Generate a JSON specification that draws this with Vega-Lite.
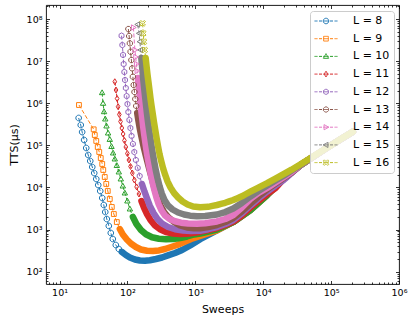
{
"$schema":"https://vega.github.io/schema/vega-lite/v6.json",
"width":353,"height":279,
"autosize":{"type":"none"},
"padding":{"left":46,"top":5,"right":16,"bottom":39},
"config":{"view":{"stroke":"#000","strokeWidth":0.9},"font":"DejaVu Sans",
"axis":{"grid":false,"domain":false,"tickColor":"#000","tickWidth":0.8,"labelColor":"#000","titleColor":"#000","labelFont":"DejaVu Sans","titleFont":"DejaVu Sans","titleFontWeight":"normal","labelFontSize":9.5,"titleFontSize":11,"labelFlush":false,"labelOverlap":false}},
"data":{"values":[
{"L":8,"s":19.1,"T":446000},{"L":8,"s":20.5,"T":304000},{"L":8,"s":21.5,"T":207000},{"L":8,"s":23,"T":134000},{"L":8,"s":24.7,"T":86500},{"L":8,"s":26.4,"T":59000},{"L":8,"s":28.3,"T":42500},{"L":8,"s":30.3,"T":30600},{"L":8,"s":32.4,"T":22000},{"L":8,"s":34.7,"T":15900},{"L":8,"s":37.1,"T":11400},{"L":8,"s":39.7,"T":8240},{"L":8,"s":42.5,"T":5620},{"L":8,"s":44.8,"T":3830},{"L":8,"s":47.1,"T":2610},{"L":8,"s":49.6,"T":1780},{"L":8,"s":53.1,"T":1220},{"L":8,"s":56.8,"T":830},{"L":8,"s":60.8,"T":597},{"L":8,"s":67.3,"T":430},{"L":8,"s":74.6,"T":346},{"L":8,"s":82.6,"T":294},{"L":8,"s":94.6,"T":249},{"L":8,"s":108.6,"T":217},{"L":8,"s":128.6,"T":195},{"L":8,"s":152.5,"T":184.5},{"L":8,"s":180.7,"T":182},{"L":8,"s":214,"T":187},{"L":8,"s":263,"T":200},{"L":8,"s":323,"T":217},{"L":8,"s":396,"T":243},{"L":8,"s":503,"T":278},{"L":8,"s":638,"T":327},{"L":8,"s":838,"T":419},{"L":8,"s":1178,"T":590},{"L":8,"s":2080,"T":951},{"L":8,"s":3620,"T":1514},{"L":8,"s":6470,"T":2917},{"L":8,"s":11430,"T":6620},{"L":8,"s":19900,"T":15900},{"L":8,"s":35500,"T":34100},{"L":8,"s":83200,"T":83700},{"L":8,"s":209000,"T":211000},
{"L":9,"s":19.3,"T":908000},{"L":9,"s":31.8,"T":240000},{"L":9,"s":33,"T":176000},{"L":9,"s":34.7,"T":127000},{"L":9,"s":36.5,"T":91400},{"L":9,"s":38.4,"T":69500},{"L":9,"s":40.4,"T":50000},{"L":9,"s":42.5,"T":36100},{"L":9,"s":44,"T":26000},{"L":9,"s":46.3,"T":17700},{"L":9,"s":48.7,"T":12100},{"L":9,"s":51.3,"T":8240},{"L":9,"s":54.9,"T":5320},{"L":9,"s":58.8,"T":3440},{"L":9,"s":63,"T":2340},{"L":9,"s":69.7,"T":1510},{"L":9,"s":77.2,"T":1030},{"L":9,"s":85.5,"T":764},{"L":9,"s":97.9,"T":581},{"L":9,"s":112.2,"T":467},{"L":9,"s":133,"T":386},{"L":9,"s":158,"T":337},{"L":9,"s":194,"T":315},{"L":9,"s":238,"T":310},{"L":9,"s":291,"T":319},{"L":9,"s":357,"T":346},{"L":9,"s":439,"T":386},{"L":9,"s":538,"T":430},{"L":9,"s":682,"T":507},{"L":9,"s":867,"T":597},{"L":9,"s":1178,"T":705},{"L":9,"s":2080,"T":951},{"L":9,"s":3620,"T":1514},{"L":9,"s":6470,"T":2917},{"L":9,"s":11430,"T":6620},{"L":9,"s":19900,"T":15900},{"L":9,"s":35500,"T":34100},{"L":9,"s":83200,"T":83700},{"L":9,"s":209000,"T":211000},
{"L":10,"s":42.3,"T":1780000},{"L":10,"s":43.7,"T":995000},{"L":10,"s":45.2,"T":629000},{"L":10,"s":47.1,"T":422000},{"L":10,"s":49.1,"T":288000},{"L":10,"s":51.8,"T":196000},{"L":10,"s":54.9,"T":138000},{"L":10,"s":58.2,"T":93800},{"L":10,"s":61.4,"T":65800},{"L":10,"s":65.1,"T":47400},{"L":10,"s":69.7,"T":33200},{"L":10,"s":74.6,"T":23300},{"L":10,"s":79.8,"T":15900},{"L":10,"s":85.5,"T":10800},{"L":10,"s":91.5,"T":7380},{"L":10,"s":99.7,"T":4770},{"L":10,"s":108.6,"T":3080},{"L":10,"s":120.3,"T":1990},{"L":10,"s":135.5,"T":1360},{"L":10,"s":158,"T":977},{"L":10,"s":187,"T":773},{"L":10,"s":230,"T":656},{"L":10,"s":291,"T":607},{"L":10,"s":370,"T":591},{"L":10,"s":470,"T":597},{"L":10,"s":596,"T":631},{"L":10,"s":757,"T":685},{"L":10,"s":960,"T":764},{"L":10,"s":1178,"T":807},{"L":10,"s":2080,"T":1005},{"L":10,"s":3620,"T":1514},{"L":10,"s":6470,"T":2917},{"L":10,"s":11430,"T":6620},{"L":10,"s":19900,"T":15900},{"L":10,"s":35500,"T":34100},{"L":10,"s":83200,"T":83700},{"L":10,"s":209000,"T":211000},
{"L":11,"s":65.1,"T":3240000},{"L":11,"s":67.8,"T":2060000},{"L":11,"s":70.4,"T":1290000},{"L":11,"s":72.8,"T":826000},{"L":11,"s":75.9,"T":540000},{"L":11,"s":79,"T":368000},{"L":11,"s":82.6,"T":258000},{"L":11,"s":86.3,"T":186000},{"L":11,"s":90.3,"T":130000},{"L":11,"s":94.6,"T":91400},{"L":11,"s":99.7,"T":64000},{"L":11,"s":105,"T":44900},{"L":11,"s":111,"T":31500},{"L":11,"s":118,"T":22000},{"L":11,"s":126.5,"T":15000},{"L":11,"s":136.4,"T":10300},{"L":11,"s":147.5,"T":7000},{"L":11,"s":160.7,"T":4770},{"L":11,"s":175,"T":3340},{"L":11,"s":194,"T":2340},{"L":11,"s":218,"T":1690},{"L":11,"s":254,"T":1250},{"L":11,"s":301,"T":1016},{"L":11,"s":370,"T":877},{"L":11,"s":470,"T":807},{"L":11,"s":596,"T":785},{"L":11,"s":757,"T":794},{"L":11,"s":960,"T":839},{"L":11,"s":1178,"T":891},{"L":11,"s":1545,"T":977},{"L":11,"s":2080,"T":1091},{"L":11,"s":2760,"T":1285},{"L":11,"s":3620,"T":1556},{"L":11,"s":4840,"T":2160},{"L":11,"s":6470,"T":3340},{"L":11,"s":8490,"T":4770},{"L":11,"s":11430,"T":7000},{"L":11,"s":15140,"T":9700},{"L":11,"s":19900,"T":15900},{"L":11,"s":35500,"T":34100},{"L":11,"s":83200,"T":83700},{"L":11,"s":209000,"T":211000},
{"L":12,"s":81.8,"T":40100000},{"L":12,"s":84.1,"T":24100000},{"L":12,"s":86.1,"T":14000000},{"L":12,"s":87.9,"T":8530000},{"L":12,"s":90,"T":5510000},{"L":12,"s":92.1,"T":3560000},{"L":12,"s":94.6,"T":2300000},{"L":12,"s":97.3,"T":1480000},{"L":12,"s":100,"T":958000},{"L":12,"s":103,"T":619000},{"L":12,"s":106.7,"T":400000},{"L":12,"s":110.4,"T":258000},{"L":12,"s":115,"T":167000},{"L":12,"s":120.3,"T":108000},{"L":12,"s":126.1,"T":69500},{"L":12,"s":133,"T":44900},{"L":12,"s":141.6,"T":29000},{"L":12,"s":151.4,"T":18700},{"L":12,"s":163.3,"T":12100},{"L":12,"s":177.8,"T":8020},{"L":12,"s":194,"T":5470},{"L":12,"s":214,"T":3630},{"L":12,"s":242,"T":2475},{"L":12,"s":277,"T":1782},{"L":12,"s":323,"T":1393},{"L":12,"s":396,"T":1151},{"L":12,"s":503,"T":1016},{"L":12,"s":660,"T":951},{"L":12,"s":867,"T":925},{"L":12,"s":1178,"T":940},{"L":12,"s":1545,"T":1021},{"L":12,"s":2080,"T":1151},{"L":12,"s":2760,"T":1357},{"L":12,"s":3620,"T":1690},{"L":12,"s":4840,"T":2410},{"L":12,"s":6470,"T":3730},{"L":12,"s":8490,"T":5470},{"L":12,"s":11430,"T":8020},{"L":12,"s":15140,"T":11130},{"L":12,"s":19900,"T":15030},{"L":12,"s":35500,"T":34100},{"L":12,"s":83200,"T":83700},{"L":12,"s":209000,"T":211000},
{"L":13,"s":103.1,"T":57800000},{"L":13,"s":105.9,"T":39400000},{"L":13,"s":108.5,"T":26500000},{"L":13,"s":111.2,"T":16700000},{"L":13,"s":114.2,"T":10600000},{"L":13,"s":117.4,"T":6740000},{"L":13,"s":120.2,"T":4260000},{"L":13,"s":123.5,"T":2710000},{"L":13,"s":126.9,"T":1850000},{"L":13,"s":130.5,"T":1260000},{"L":13,"s":134.5,"T":859000},{"L":13,"s":139.2,"T":586000},{"L":13,"s":144.5,"T":400000},{"L":13,"s":150.5,"T":272000},{"L":13,"s":157.8,"T":186000},{"L":13,"s":166.1,"T":127000},{"L":13,"s":174.8,"T":86500},{"L":13,"s":185.3,"T":59000},{"L":13,"s":197,"T":40200},{"L":13,"s":209.4,"T":27400},{"L":13,"s":223.4,"T":18700},{"L":13,"s":239.1,"T":12400},{"L":13,"s":256.9,"T":8240},{"L":13,"s":278.8,"T":5470},{"L":13,"s":306.7,"T":3730},{"L":13,"s":345.6,"T":2610},{"L":13,"s":402.7,"T":1936},{"L":13,"s":485.8,"T":1514},{"L":13,"s":595.8,"T":1250},{"L":13,"s":756,"T":1120},{"L":13,"s":960,"T":1072},{"L":13,"s":1178,"T":1072},{"L":13,"s":1545,"T":1151},{"L":13,"s":2080,"T":1285},{"L":13,"s":2760,"T":1514},{"L":13,"s":3620,"T":1884},{"L":13,"s":4840,"T":2690},{"L":13,"s":6470,"T":4160},{"L":13,"s":8490,"T":6100},{"L":13,"s":11430,"T":8950},{"L":13,"s":15140,"T":12400},{"L":13,"s":19900,"T":16800},{"L":13,"s":26100,"T":22700},{"L":13,"s":35500,"T":34100},{"L":13,"s":83200,"T":83700},{"L":13,"s":209000,"T":211000},
{"L":14,"s":122.3,"T":62800000},{"L":14,"s":128.7,"T":18400000},{"L":14,"s":132.3,"T":12500000},{"L":14,"s":135.4,"T":8530000},{"L":14,"s":138.7,"T":5820000},{"L":14,"s":142.5,"T":3970000},{"L":14,"s":145.9,"T":2710000},{"L":14,"s":149.5,"T":1850000},{"L":14,"s":153.1,"T":1260000},{"L":14,"s":156.8,"T":859000},{"L":14,"s":161.1,"T":586000},{"L":14,"s":166.1,"T":400000},{"L":14,"s":170.7,"T":272000},{"L":14,"s":176.1,"T":186000},{"L":14,"s":182.2,"T":127000},{"L":14,"s":188.4,"T":86500},{"L":14,"s":195.5,"T":59000},{"L":14,"s":203.8,"T":40200},{"L":14,"s":213,"T":27400},{"L":14,"s":223.4,"T":18700},{"L":14,"s":235.1,"T":12800},{"L":14,"s":249.1,"T":8710},{"L":14,"s":265.9,"T":5940},{"L":14,"s":287.5,"T":4050},{"L":14,"s":317.3,"T":2840},{"L":14,"s":357,"T":2160},{"L":14,"s":416.7,"T":1782},{"L":14,"s":503,"T":1573},{"L":14,"s":616.6,"T":1456},{"L":14,"s":782.6,"T":1393},{"L":14,"s":1052,"T":1372},{"L":14,"s":1396,"T":1409},{"L":14,"s":2080,"T":1556},{"L":14,"s":2760,"T":1782},{"L":14,"s":3620,"T":2220},{"L":14,"s":4840,"T":3340},{"L":14,"s":6470,"T":5320},{"L":14,"s":8490,"T":7380},{"L":14,"s":11430,"T":9700},{"L":14,"s":15140,"T":13100},{"L":14,"s":19900,"T":17400},{"L":14,"s":26100,"T":23300},{"L":14,"s":35500,"T":34100},{"L":14,"s":83200,"T":83700},{"L":14,"s":209000,"T":211000},
{"L":15,"s":141.1,"T":74000000},{"L":15,"s":148.9,"T":45700000},{"L":15,"s":152.5,"T":28900000},{"L":15,"s":156.2,"T":18400000},{"L":15,"s":160,"T":11900000},{"L":15,"s":163.9,"T":7650000},{"L":15,"s":167.9,"T":4940000},{"L":15,"s":172.5,"T":3190000},{"L":15,"s":177.3,"T":2060000},{"L":15,"s":182.7,"T":1330000},{"L":15,"s":188.4,"T":859000},{"L":15,"s":194.3,"T":555000},{"L":15,"s":201,"T":358000},{"L":15,"s":208.7,"T":231000},{"L":15,"s":217.5,"T":149000},{"L":15,"s":226.5,"T":96400},{"L":15,"s":236.7,"T":62300},{"L":15,"s":248.3,"T":40200},{"L":15,"s":261.3,"T":26000},{"L":15,"s":277,"T":16800},{"L":15,"s":296.5,"T":10800},{"L":15,"s":320.6,"T":7190},{"L":15,"s":351.5,"T":5040},{"L":15,"s":396,"T":3730},{"L":15,"s":461.6,"T":3000},{"L":15,"s":556.7,"T":2540},{"L":15,"s":682,"T":2280},{"L":15,"s":838,"T":2140},{"L":15,"s":1052,"T":2070},{"L":15,"s":1396,"T":2100},{"L":15,"s":2080,"T":2280},{"L":15,"s":2760,"T":2610},{"L":15,"s":3620,"T":3160},{"L":15,"s":4840,"T":4280},{"L":15,"s":6470,"T":6100},{"L":15,"s":8490,"T":8240},{"L":15,"s":11430,"T":11100},{"L":15,"s":15140,"T":14600},{"L":15,"s":19900,"T":18900},{"L":15,"s":26100,"T":25300},{"L":15,"s":35500,"T":34100},{"L":15,"s":83200,"T":83700},{"L":15,"s":209000,"T":211000},
{"L":16,"s":167.2,"T":79000000},{"L":16,"s":170.7,"T":45700000},{"L":16,"s":174.8,"T":28900000},{"L":16,"s":179.7,"T":18400000},{"L":16,"s":185.3,"T":11900000},{"L":16,"s":191,"T":7650000},{"L":16,"s":197,"T":4940000},{"L":16,"s":203.8,"T":3190000},{"L":16,"s":210.9,"T":2060000},{"L":16,"s":218,"T":1330000},{"L":16,"s":226.5,"T":859000},{"L":16,"s":236,"T":555000},{"L":16,"s":245.7,"T":358000},{"L":16,"s":256.9,"T":231000},{"L":16,"s":268.5,"T":149000},{"L":16,"s":281.7,"T":96400},{"L":16,"s":296.5,"T":62300},{"L":16,"s":314.1,"T":42500},{"L":16,"s":334,"T":29000},{"L":16,"s":359.9,"T":19800},{"L":16,"s":390.6,"T":13800},{"L":16,"s":431,"T":9980},{"L":16,"s":485.8,"T":7380},{"L":16,"s":556.7,"T":5780},{"L":16,"s":648.9,"T":4640},{"L":16,"s":769.1,"T":3940},{"L":16,"s":927.9,"T":3530},{"L":16,"s":1178,"T":3380},{"L":16,"s":1350,"T":3430},{"L":16,"s":1545,"T":3470},{"L":16,"s":1791,"T":3650},{"L":16,"s":2080,"T":3830},{"L":16,"s":2391,"T":4070},{"L":16,"s":2760,"T":4320},{"L":16,"s":3162,"T":4670},{"L":16,"s":3620,"T":5040},{"L":16,"s":4182,"T":5570},{"L":16,"s":4840,"T":6170},{"L":16,"s":5585,"T":7000},{"L":16,"s":6470,"T":7930},{"L":16,"s":7412,"T":8870},{"L":16,"s":8490,"T":9930},{"L":16,"s":9831,"T":11190},{"L":16,"s":11430,"T":12620},{"L":16,"s":13140,"T":14320},{"L":16,"s":15140,"T":16230},{"L":16,"s":17360,"T":18320},{"L":16,"s":19900,"T":20650},{"L":16,"s":22800,"T":23350},{"L":16,"s":26100,"T":26400},{"L":16,"s":30450,"T":30600},{"L":16,"s":35500,"T":35500},{"L":16,"s":40700,"T":40640},{"L":16,"s":46700,"T":46600},{"L":16,"s":53440,"T":53580},{"L":16,"s":61200,"T":61600},{"L":16,"s":71400,"T":71780},{"L":16,"s":83200,"T":83700},{"L":16,"s":97000,"T":97760},{"L":16,"s":113000,"T":114000},{"L":16,"s":131800,"T":133600},{"L":16,"s":153000,"T":156000},{"L":16,"s":179000,"T":181400},{"L":16,"s":209000,"T":211000}
]},
"encoding":{
"color":{"field":"L","type":"nominal","scale":{"domain":[8,9,10,11,12,13,14,15,16],"range":["#1f77b4","#ff7f0e","#2ca02c","#d62728","#9467bd","#8c564b","#e377c2","#7f7f7f","#bcbd22"]},
"legend":{"title":null,"orient":"top-right","offset":5.5,"padding":4.5,"strokeColor":"#cccccc","fillColor":"rgba(255,255,255,0.8)","cornerRadius":3,"rowPadding":5.7,"symbolOffset":6,"labelOffset":21.5,"labelFontSize":11,"labelFont":"DejaVu Sans","labelColor":"#000","labelExpr":"'L = ' + datum.label","symbolSize":100,
"encode":{"symbols":{"update":{"shape":{"signal":"['M-2.3,0H-1.7M-1.4,0H-0.8M-0.55,0H0.55M0.8,0H1.4M1.7,0H2.3M0.55,0A0.55,0.55,0,1,1,-0.55,0A0.55,0.55,0,1,1,0.55,0Z','M-2.3,0H-1.7M-1.4,0H-0.8M-0.55,0H0.55M0.8,0H1.4M1.7,0H2.3M-0.47,-0.47H0.47V0.47H-0.47Z','M-2.3,0H-1.7M-1.4,0H-0.8M-0.55,0H0.55M0.8,0H1.4M1.7,0H2.3M0,-0.55L0.52,0.385L-0.52,0.385Z','M-2.3,0H-1.7M-1.4,0H-0.8M-0.55,0H0.55M0.8,0H1.4M1.7,0H2.3M0,-0.58L0.36,0L0,0.58L-0.36,0Z','M-2.3,0H-1.7M-1.4,0H-0.8M-0.55,0H0.55M0.8,0H1.4M1.7,0H2.3M0,-0.55L0.476,-0.275L0.476,0.275L0,0.55L-0.476,0.275L-0.476,-0.275Z','M-2.3,0H-1.7M-1.4,0H-0.8M-0.55,0H0.55M0.8,0H1.4M1.7,0H2.3M0.211,-0.508L0.508,-0.211L0.508,0.211L0.211,0.508L-0.211,0.508L-0.508,0.211L-0.508,-0.211L-0.211,-0.508Z','M-2.3,0H-1.7M-1.4,0H-0.8M-0.55,0H0.55M0.8,0H1.4M1.7,0H2.3M0.55,0L-0.385,0.52L-0.385,-0.52Z','M-2.3,0H-1.7M-1.4,0H-0.8M-0.55,0H0.55M0.8,0H1.4M1.7,0H2.3M-0.55,0L0.385,-0.52L0.385,0.52Z','M-2.3,0H-1.7M-1.4,0H-0.8M-0.55,0H0.55M0.8,0H1.4M1.7,0H2.3M-0.55,-0.33L-0.33,-0.55L0,-0.22L0.33,-0.55L0.55,-0.33L0.22,0L0.55,0.33L0.33,0.55L0,0.22L-0.33,0.55L-0.55,0.33L-0.22,0Z'][datum.value - 8]"},
"size":{"value":100},"fill":{"value":"transparent"},"stroke":{"scale":"color","field":"value"},"strokeWidth":{"value":1},"strokeDash":{"value":[1,0]},"opacity":{"value":1}}}}}}
},
"layer":[
{"mark":{"type":"line","strokeDash":[4,2],"strokeWidth":1},
"encoding":{
"x":{"field":"s","type":"quantitative","scale":{"type":"log","domain":[6.31,1000000],"nice":false},"axis":{"orient":"bottom","values":[10,100,1000,10000,100000,1000000],"labelExpr":"'10' + ['⁰','¹','²','³','⁴','⁵','⁶','⁷','⁸'][round(log(datum.value)/LN10)]","tickSize":-3.5,"labelPadding":7,"title":"Sweeps","titlePadding":6}},
"y":{"field":"T","type":"quantitative","scale":{"type":"log","domain":[51,215000000],"nice":false},"axis":{"orient":"left","values":[100,1000,10000,100000,1000000,10000000,100000000],"labelExpr":"'10' + ['⁰','¹','²','³','⁴','⁵','⁶','⁷','⁸'][round(log(datum.value)/LN10)]","tickSize":-3.5,"labelPadding":7.5,"title":"TTS(μs)","titlePadding":7}}}},
{"transform":[{"filter":"datum.s >= [75,75,120,150,160,135,140,160,185][datum.L - 8]"}],
"mark":{"type":"line","strokeWidth":6.5,"strokeCap":"round","strokeJoin":"round"},
"encoding":{
"x":{"field":"s","type":"quantitative","scale":{"type":"log","domain":[6.31,1000000],"nice":false},"axis":null},
"y":{"field":"T","type":"quantitative","scale":{"type":"log","domain":[51,215000000],"nice":false},"axis":null}}},
{"transform":[{"filter":"datum.s < [75,75,120,150,160,135,140,160,185][datum.L - 8]"}],
"mark":{"type":"point","filled":false,"size":32,"strokeWidth":1,"opacity":1},
"encoding":{
"x":{"field":"s","type":"quantitative","scale":{"type":"log","domain":[6.31,1000000],"nice":false},"axis":{"orient":"top","values":[10,100,1000,10000,100000,1000000],"labels":false,"tickSize":-3.5,"title":null}},
"y":{"field":"T","type":"quantitative","scale":{"type":"log","domain":[51,215000000],"nice":false},"axis":{"orient":"right","values":[100,1000,10000,100000,1000000,10000000,100000000],"labels":false,"tickSize":-3.5,"title":null}},
"shape":{"field":"L","type":"nominal","scale":{"domain":[16,15,14,13,12,11,10,9,8],"range":["M-1,-0.6L-0.6,-1L0,-0.4L0.6,-1L1,-0.6L0.4,0L1,0.6L0.6,1L0,0.4L-0.6,1L-1,0.6L-0.4,0Z","M-1,0L0.7,-0.95L0.7,0.95Z","M1,0L-0.7,0.95L-0.7,-0.95Z","M0.383,-0.924L0.924,-0.383L0.924,0.383L0.383,0.924L-0.383,0.924L-0.924,0.383L-0.924,-0.383L-0.383,-0.924Z","M0,-1L0.866,-0.5L0.866,0.5L0,1L-0.866,0.5L-0.866,-0.5Z","M0,-1.05L0.65,0L0,1.05L-0.65,0Z","M0,-1L0.95,0.7L-0.95,0.7Z","M-0.85,-0.85H0.85V0.85H-0.85Z","M1,0A1,1,0,1,1,-1,0A1,1,0,1,1,1,0Z"]},"legend":null}}},
{"data":{"values":[{"L":8,"s":1000,"T":1000}]},"mark":{"type":"point","opacity":0},
"encoding":{
"x":{"field":"s","type":"quantitative","scale":{"type":"log","domain":[6.31,1000000],"nice":false},"axis":{"orient":"bottom","values":[7,8,9,20,30,40,50,60,70,80,90,200,300,400,500,600,700,800,900,2000,3000,4000,5000,6000,7000,8000,9000,20000,30000,40000,50000,60000,70000,80000,90000,200000,300000,400000,500000,600000,700000,800000,900000],"labels":false,"tickSize":-2,"title":null}},
"y":{"field":"T","type":"quantitative","scale":{"type":"log","domain":[51,215000000],"nice":false},"axis":{"orient":"left","values":[60,70,80,90,200,300,400,500,600,700,800,900,2000,3000,4000,5000,6000,7000,8000,9000,20000,30000,40000,50000,60000,70000,80000,90000,200000,300000,400000,500000,600000,700000,800000,900000,2000000,3000000,4000000,5000000,6000000,7000000,8000000,9000000,20000000,30000000,40000000,50000000,60000000,70000000,80000000,90000000,200000000],"labels":false,"tickSize":-2,"title":null}}}},
{"data":{"values":[{"L":8,"s":1000,"T":1000}]},"mark":{"type":"point","opacity":0},
"encoding":{
"x":{"field":"s","type":"quantitative","scale":{"type":"log","domain":[6.31,1000000],"nice":false},"axis":{"orient":"top","values":[7,8,9,20,30,40,50,60,70,80,90,200,300,400,500,600,700,800,900,2000,3000,4000,5000,6000,7000,8000,9000,20000,30000,40000,50000,60000,70000,80000,90000,200000,300000,400000,500000,600000,700000,800000,900000],"labels":false,"tickSize":-2,"title":null}},
"y":{"field":"T","type":"quantitative","scale":{"type":"log","domain":[51,215000000],"nice":false},"axis":{"orient":"right","values":[60,70,80,90,200,300,400,500,600,700,800,900,2000,3000,4000,5000,6000,7000,8000,9000,20000,30000,40000,50000,60000,70000,80000,90000,200000,300000,400000,500000,600000,700000,800000,900000,2000000,3000000,4000000,5000000,6000000,7000000,8000000,9000000,20000000,30000000,40000000,50000000,60000000,70000000,80000000,90000000,200000000],"labels":false,"tickSize":-2,"title":null}}}}
],
"resolve":{"axis":{"x":"independent","y":"independent"}}
}
